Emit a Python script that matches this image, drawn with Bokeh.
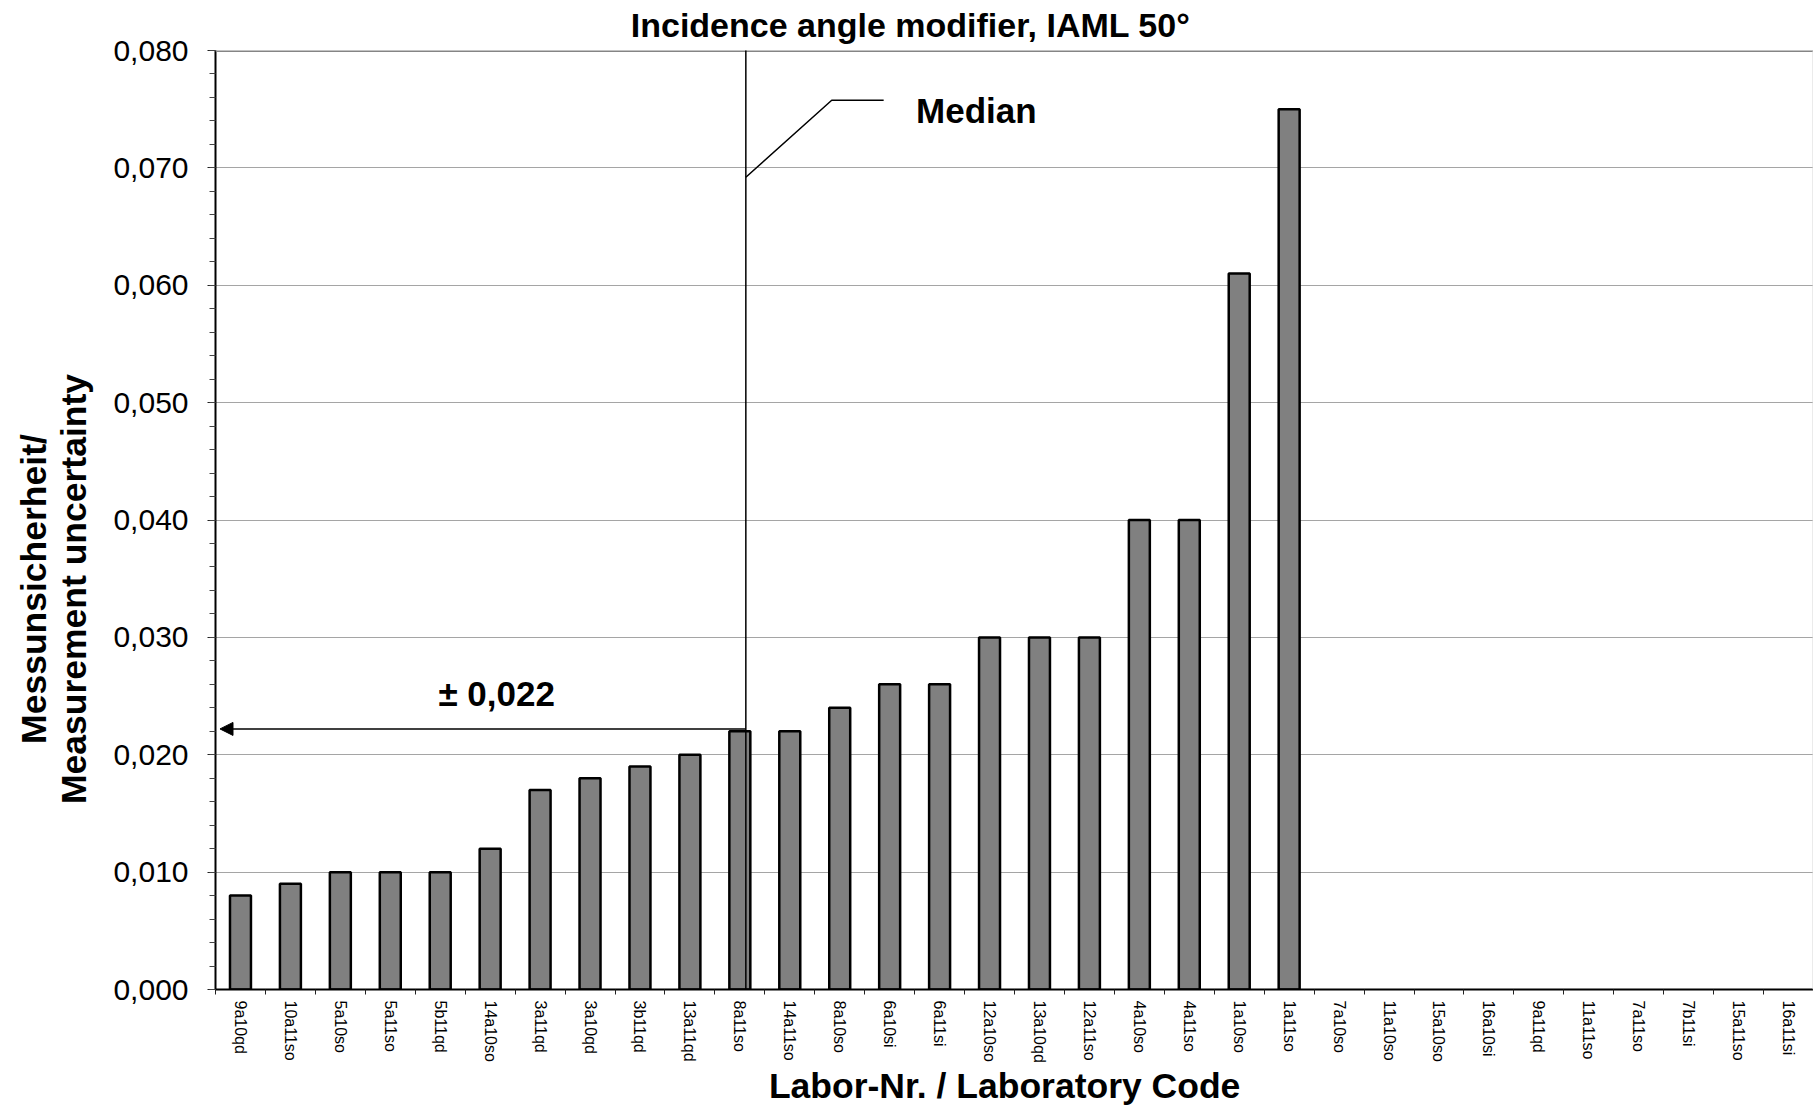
import numpy as np
from bokeh.plotting import figure
from bokeh.models import (Range1d, LinearAxis, FixedTicker, CustomJSTickFormatter, Label, Arrow,
                          NormalHead, Span, ColumnDataSource)
from bokeh.embed import file_html
from bokeh.resources import INLINE

# ---- data ----
labs = ["9a10qd", "10a11so", "5a10so", "5a11so", "5b11qd", "14a10so", "3a11qd", "3a10qd",
        "3b11qd", "13a11qd", "8a11so", "14a11so", "8a10so", "6a10si", "6a11si", "12a10so",
        "13a10qd", "12a11so", "4a10so", "4a11so", "1a10so", "1a11so", "7a10so", "11a10so",
        "15a10so", "16a10si", "9a11qd", "11a11so", "7a11so", "7b11si", "15a11so", "16a11si"]
uncert = [0.008, 0.009, 0.010, 0.010, 0.010, 0.012, 0.017, 0.018,
          0.019, 0.020, 0.022, 0.022, 0.024, 0.026, 0.026, 0.030,
          0.030, 0.030, 0.040, 0.040, 0.061, 0.075, None, None,
          None, None, None, None, None, None, None, None]
median_value = 0.022
y_ticks = [0.0, 0.01, 0.02, 0.03, 0.04, 0.05, 0.06, 0.07, 0.08]

FONT = "Liberation Sans"
NB = "\u00a0"
n = len(labs)
centers = [i + 0.5 for i in range(n)]

p = figure(width=1813, height=1108, output_backend="svg", toolbar_location=None,
           x_range=Range1d(0, n), y_range=Range1d(0, 0.08),
           min_border_left=215, min_border_right=0, min_border_top=50, min_border_bottom=116)
p.background_fill_color = "white"
p.border_fill_color = "white"
p.outline_line_color = None

# title (shifted left from frame centre with non-breaking spaces)
p.title.text = "Incidence angle modifier, IAML 50°" + NB * 22
p.title.align = "center"
p.title.vertical_align = "top"
p.title.text_font = FONT
p.title.text_font_size = "34px"
p.title.text_font_style = "bold"
p.title.text_color = "black"
p.title.standoff = 10

# numeric x axis: only tick marks at category boundaries
xa = p.xaxis[0]
xa.ticker = FixedTicker(ticks=list(range(0, n + 1)), minor_ticks=[])
xa.formatter = CustomJSTickFormatter(code="return ''")
xa.major_label_standoff = 0
xa.major_tick_out = 5
xa.major_tick_in = 0
xa.major_tick_line_color = "#222222"
xa.axis_line_color = "black"
xa.axis_line_width = 2
xa.minor_tick_line_color = None

# second axis with category labels at centres + axis title
ca = LinearAxis(ticker=FixedTicker(ticks=centers, minor_ticks=[]),
                major_label_overrides={c: l for c, l in zip(centers, labs)})
ca.axis_line_color = None
ca.major_tick_line_color = None
ca.minor_tick_line_color = None
ca.major_label_orientation = "vertical"
ca.major_label_standoff = 0
ca.major_label_text_font = FONT
ca.major_label_text_font_size = "16px"
ca.major_label_text_color = "black"
ca.axis_label = "Labor-Nr. / Laboratory Code" + NB * 2
ca.axis_label_text_font = FONT
ca.axis_label_text_font_size = "35.5px"
ca.axis_label_text_font_style = "bold"
ca.axis_label_text_color = "black"
ca.axis_label_standoff = 0
p.add_layout(ca, "below")

# y axis
ya = p.yaxis[0]
ya.ticker = FixedTicker(ticks=y_ticks, minor_ticks=[round(i * 0.002, 3) for i in range(41)])
ya.formatter = CustomJSTickFormatter(code="return tick.toFixed(3).replace('.', ',')")
ya.major_label_text_font = FONT
ya.major_label_text_font_size = "30px"
ya.major_label_text_color = "black"
ya.major_tick_out = 8
ya.major_tick_in = 0
ya.minor_tick_out = 6
ya.minor_tick_in = 0
ya.major_label_standoff = 19
ya.axis_line_color = "black"
ya.axis_line_width = 2
ya.major_tick_line_color = "#222222"
ya.minor_tick_line_color = "#444444"
ya.axis_label = "Messunsicherheit/" + NB * 14 + "\nMeasurement uncertainty" + NB * 14
ya.axis_label_text_font = FONT
ya.axis_label_text_font_size = "35.5px"
ya.axis_label_text_font_style = "bold"
ya.axis_label_text_color = "black"
ya.axis_label_text_line_height = 1.0
ya.axis_label_standoff = 16

p.xgrid.grid_line_color = None
p.ygrid.ticker = FixedTicker(ticks=y_ticks[1:-1])
p.ygrid.grid_line_color = "#4a4a4a"
p.ygrid.grid_line_dash = "1 1"
p.ygrid.grid_line_width = 1

# frame borders (top grey, right light grey)
p.add_layout(Span(location=0.08, dimension="width", line_color="#858585", line_width=3))
p.add_layout(Span(location=n, dimension="height", line_color="#d8d8d8", line_width=2))

# bars
vals = np.array([np.nan if v is None else v for v in uncert], dtype=float)
src = ColumnDataSource(dict(x=centers, lab=labs, val=vals))
p.vbar(x="x", top="val", source=src, width=0.42,
       fill_color="#808080", line_color="black", line_width=2.5)

# median line
mx = 10.62
p.add_layout(Arrow(end=None, x_start=mx, y_start=-0.0004, x_end=mx, y_end=0.0804,
                   line_color="black", line_width=1.5))
# median callout
p.line(x=[mx, 12.34, 13.38], y=[0.0692, 0.07576, 0.07576], line_color="black", line_width=1.5)
p.add_layout(Label(x=14.03, y=0.0749, text="Median", text_align="left", text_baseline="middle",
                   text_font=FONT, text_font_size="35px", text_font_style="bold", text_color="black"))

# +/- arrow
p.add_layout(Arrow(end=NormalHead(size=13, fill_color="black", line_color="black", line_width=1),
                   x_start=mx, y_start=median_value + 0.0002, x_end=0.09, y_end=median_value + 0.0002,
                   line_color="black", line_width=1.5))
p.add_layout(Label(x=5.63, y=0.0252, text="± 0,022", text_align="center", text_baseline="middle",
                   text_font=FONT, text_font_size="35px", text_font_style="bold", text_color="black"))

open("out.html", "w").write(file_html(p, INLINE))
